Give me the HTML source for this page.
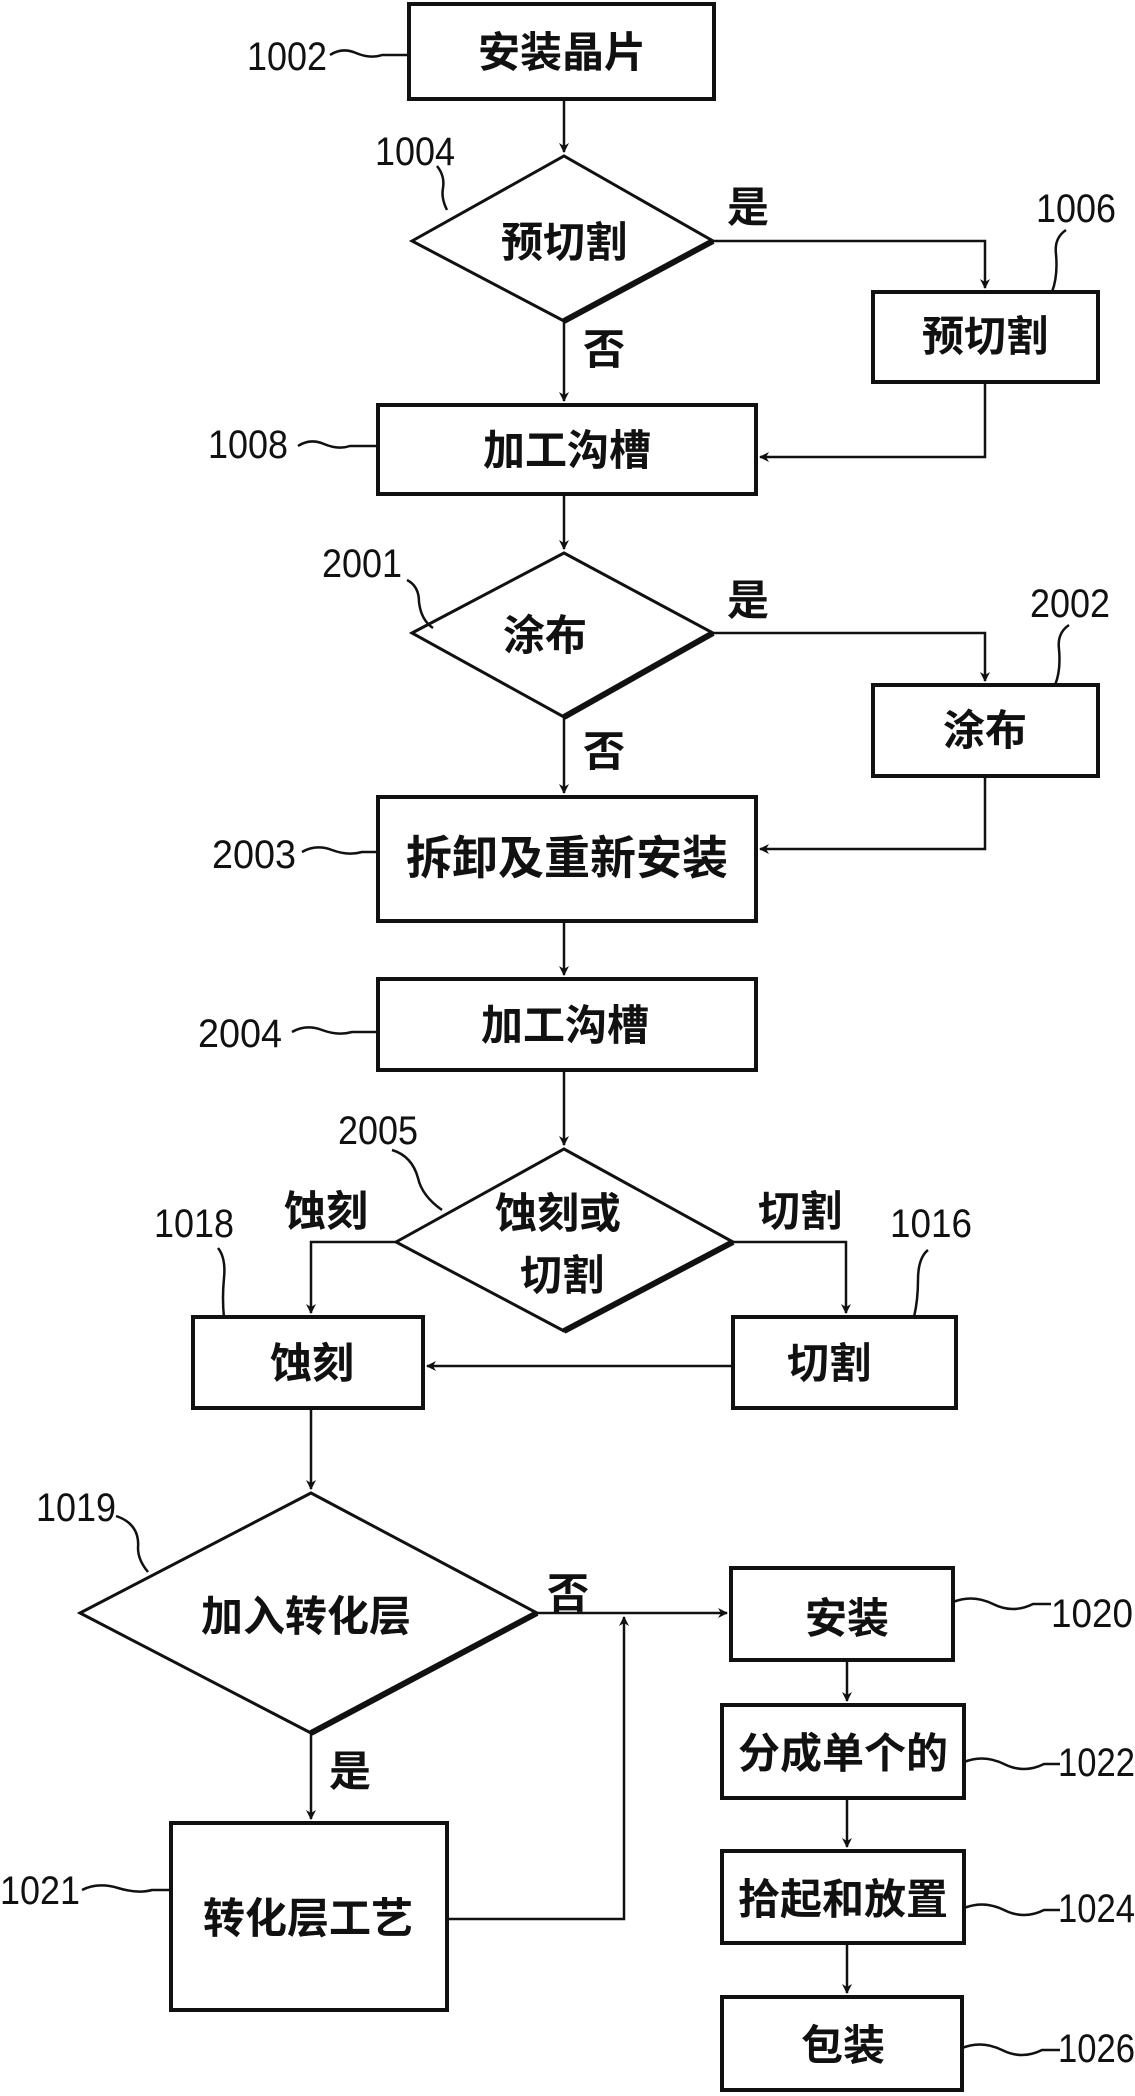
<!DOCTYPE html>
<html><head><meta charset="utf-8"><style>
html,body{margin:0;padding:0;background:#fff;}
svg{display:block;}
.c{font-family:"Liberation Sans","Noto Sans CJK SC",sans-serif;font-weight:bold;font-size:42px;fill:#111;}
.n{font-family:"Liberation Sans",sans-serif;font-size:40px;fill:#111;}
</style></head><body>
<svg width="1135" height="2096" viewBox="0 0 1135 2096" xmlns="http://www.w3.org/2000/svg">
<defs>
<marker id="a" markerWidth="10" markerHeight="10" refX="9" refY="5" orient="auto" markerUnits="userSpaceOnUse" viewBox="0 0 10 10">
<path d="M0,0 L10,5 L0,10 L3,5 z" fill="#111"/></marker>
</defs>
<g fill="none" stroke="#111" stroke-width="4">
<rect x="409" y="4" width="305" height="95"/>
<rect x="873" y="292" width="225" height="90"/>
<rect x="378" y="405" width="378" height="89"/>
<rect x="873" y="685" width="225" height="91"/>
<rect x="378" y="797" width="378" height="124"/>
<rect x="378" y="979" width="378" height="91"/>
<rect x="193" y="1317" width="230" height="91"/>
<rect x="733" y="1317" width="223" height="91"/>
<rect x="171" y="1823" width="276" height="187"/>
<rect x="731" y="1568" width="222" height="92"/>
<rect x="722" y="1705" width="242" height="93"/>
<rect x="722" y="1851" width="242" height="92"/>
<rect x="722" y="1997" width="240" height="93"/>
</g>
<g fill="none" stroke="#111" stroke-width="3">
<path d="M412,241 L564,156 L713,241 L564,321 Z"/>
<path d="M412,633 L564,553 L713,633 L564,717 Z"/>
<path d="M396,1242 L564,1149 L733,1242 L564,1331 Z"/>
<path d="M80,1613 L311,1493 L537,1613 L311,1733 Z"/>
</g>
<g fill="none" stroke="#111" stroke-width="6">
<path d="M713,241 L564,321"/><path d="M713,633 L564,717"/><path d="M733,1242 L564,1331"/><path d="M537,1613 L311,1733"/>
</g>
<g fill="none" stroke="#111" stroke-width="2.5">
<path d="M564,99 V152" marker-end="url(#a)"/>
<path d="M713,241 H985 V288" marker-end="url(#a)"/>
<path d="M564,321 V401" marker-end="url(#a)"/>
<path d="M985,382 V457 H760" marker-end="url(#a)"/>
<path d="M564,494 V549" marker-end="url(#a)"/>
<path d="M713,633 H985 V681" marker-end="url(#a)"/>
<path d="M564,717 V793" marker-end="url(#a)"/>
<path d="M985,776 V849 H760" marker-end="url(#a)"/>
<path d="M564,921 V975" marker-end="url(#a)"/>
<path d="M564,1070 V1145" marker-end="url(#a)"/>
<path d="M396,1242 H311 V1313" marker-end="url(#a)"/>
<path d="M733,1242 H846 V1313" marker-end="url(#a)"/>
<path d="M733,1366 H427" marker-end="url(#a)"/>
<path d="M311,1408 V1489" marker-end="url(#a)"/>
<path d="M537,1613 H727" marker-end="url(#a)"/>
<path d="M447,1919 H624 V1617" marker-end="url(#a)"/>
<path d="M311,1733 V1819" marker-end="url(#a)"/>
<path d="M847,1660 V1701" marker-end="url(#a)"/>
<path d="M847,1798 V1847" marker-end="url(#a)"/>
<path d="M847,1943 V1993" marker-end="url(#a)"/>
<path d="M330,55 q12,-8 26,-2 t26,2 H409"/>
<path d="M437,166 q8,10 6,22 q-2,10 4,22"/>
<path d="M1066,230 q-12,8 -10,24 q2,22 -4,38"/>
<path d="M298,446 q12,-8 26,-2 t26,2 H378"/>
<path d="M407,580 q12,6 12,22 q2,18 14,26"/>
<path d="M1069,625 q-12,8 -10,24 q2,22 -4,36"/>
<path d="M302,852 q14,-8 30,-2 t30,2 H378"/>
<path d="M292,1032 q14,-8 30,-2 t30,2 H378"/>
<path d="M392,1150 q20,6 26,28 q4,18 24,32"/>
<path d="M218,1248 q8,10 6,30 q-2,20 0,40"/>
<path d="M928,1250 q-10,8 -10,30 q0,20 -4,37"/>
<path d="M116,1516 q24,8 22,32 q0,12 10,24"/>
<path d="M82,1890 q16,-8 36,-2 t34,2 H171"/>
<path d="M953,1602 q20,-8 40,2 t40,0 h18"/>
<path d="M964,1762 q20,-8 40,2 t40,0 h16"/>
<path d="M964,1908 q20,-8 40,2 t40,0 h16"/>
<path d="M962,2048 q20,-8 40,2 t40,0 h18"/>
</g>
<g class="c" text-anchor="middle">
<text x="562" y="67">安装晶片</text>
<text x="564" y="257">预切割</text>
<text x="985" y="351">预切割</text>
<text x="567" y="465">加工沟槽</text>
<text x="545" y="650">涂布</text>
<text x="985" y="745">涂布</text>
<text x="567" y="874" style="font-size:46px">拆卸及重新安装</text>
<text x="565" y="1040">加工沟槽</text>
<text x="558" y="1228">蚀刻或</text>
<text x="562" y="1290">切割</text>
<text x="312" y="1378">蚀刻</text>
<text x="829" y="1378">切割</text>
<text x="306" y="1631">加入转化层</text>
<text x="308" y="1933">转化层工艺</text>
<text x="847" y="1633">安装</text>
<text x="843" y="1768">分成单个的</text>
<text x="843" y="1914">拾起和放置</text>
<text x="843" y="2060">包装</text>
<text x="748" y="222">是</text>
<text x="604" y="364">否</text>
<text x="748" y="615">是</text>
<text x="604" y="766">否</text>
<text x="326" y="1226">蚀刻</text>
<text x="800" y="1226">切割</text>
<text x="568" y="1608">否</text>
<text x="350" y="1786">是</text>
</g>
<g class="n">
<text x="247" y="70" textLength="80" lengthAdjust="spacingAndGlyphs">1002</text>
<text x="375" y="165" textLength="80" lengthAdjust="spacingAndGlyphs">1004</text>
<text x="1036" y="222" textLength="80" lengthAdjust="spacingAndGlyphs">1006</text>
<text x="208" y="458" textLength="80" lengthAdjust="spacingAndGlyphs">1008</text>
<text x="322" y="577" textLength="80" lengthAdjust="spacingAndGlyphs">2001</text>
<text x="1030" y="617" textLength="80" lengthAdjust="spacingAndGlyphs">2002</text>
<text x="212" y="868" textLength="84" lengthAdjust="spacingAndGlyphs">2003</text>
<text x="198" y="1047" textLength="84" lengthAdjust="spacingAndGlyphs">2004</text>
<text x="338" y="1144" textLength="80" lengthAdjust="spacingAndGlyphs">2005</text>
<text x="154" y="1237" textLength="80" lengthAdjust="spacingAndGlyphs">1018</text>
<text x="890" y="1237" textLength="82" lengthAdjust="spacingAndGlyphs">1016</text>
<text x="36" y="1521" textLength="80" lengthAdjust="spacingAndGlyphs">1019</text>
<text x="0" y="1904" textLength="80" lengthAdjust="spacingAndGlyphs">1021</text>
<text x="1051" y="1627" textLength="82" lengthAdjust="spacingAndGlyphs">1020</text>
<text x="1058" y="1776" textLength="77" lengthAdjust="spacingAndGlyphs">1022</text>
<text x="1058" y="1922" textLength="77" lengthAdjust="spacingAndGlyphs">1024</text>
<text x="1058" y="2062" textLength="77" lengthAdjust="spacingAndGlyphs">1026</text>
</g>
</svg>
</body></html>
